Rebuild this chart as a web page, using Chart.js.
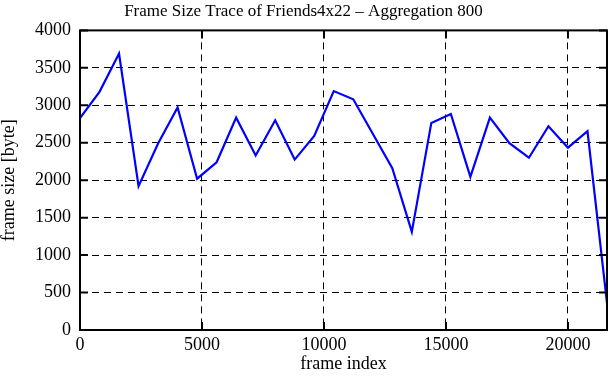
<!DOCTYPE html>
<html>
<head>
<meta charset="utf-8">
<script src="https://cdn.jsdelivr.net/npm/chart.js@4/dist/chart.umd.min.js"></script>
<style>
  html, body { margin: 0; padding: 0; background: #fff; }
  #wrap { width: 611px; height: 380px; }
</style>
</head>
<body>
<div id="wrap"><canvas id="traceChart" width="611" height="380"></canvas></div>
<script>
// frame index (aggregation windows of 800 frames)
const FRAME_INDEX = [0, 800, 1600, 2400, 3200, 4000, 4800, 5600, 6400, 7200, 8000, 8800, 9600, 10400,
                     11200, 12000, 12800, 13600, 14400, 15200, 16000, 16800, 17600, 18400, 19200, 20000, 20800, 21600];
// frame size [byte]
const FRAME_SIZE = [2830, 3180, 3690, 1920, 2490, 2970, 2020, 2240, 2835, 2330, 2800, 2275, 2590, 3190,
                    3080, 2620, 2160, 1310, 2765, 2885, 2045, 2835, 2495, 2300, 2720, 2435, 2655, 360];

const X_TICKS = [0, 5000, 10000, 15000, 20000];
const Y_TICKS = [0, 500, 1000, 1500, 2000, 2500, 3000, 3500, 4000];

const SERIF = "'Liberation Serif', 'DejaVu Serif', serif";

// gnuplot-style frame with inward tick marks on all four sides
const framePlugin = {
    id: 'frame',
    afterDraw(chart) {
        const ctx = chart.ctx;
        const { left, right, top, bottom } = chart.chartArea;
        const xs = chart.scales.x, ys = chart.scales.y;
        const len = 8;
        ctx.save();
        ctx.strokeStyle = '#000';
        ctx.lineWidth = 2;
        ctx.strokeRect(left, top, right - left, bottom - top);
        ctx.beginPath();
        X_TICKS.forEach(v => {
            const px = xs.getPixelForValue(v);
            ctx.moveTo(px, bottom); ctx.lineTo(px, bottom - len);
            ctx.moveTo(px, top); ctx.lineTo(px, top + len);
        });
        Y_TICKS.forEach(v => {
            const py = ys.getPixelForValue(v);
            ctx.moveTo(left, py); ctx.lineTo(left + len, py);
            ctx.moveTo(right, py); ctx.lineTo(right - len, py);
        });
        ctx.stroke();
        ctx.restore();
    }
};

const points = FRAME_INDEX.map((x, i) => ({ x: x, y: FRAME_SIZE[i] }));

new Chart(document.getElementById('traceChart').getContext('2d'), {
    type: 'line',
    data: {
        datasets: [{
            label: 'frame size',
            data: points,
            borderColor: '#0000ff',
            borderWidth: 2.2,
            pointRadius: 0,
            fill: false,
            tension: 0
        }]
    },
    options: {
        responsive: false,
        animation: false,
        layout: { padding: { left: 0, right: 4, top: 0, bottom: 0 } },
        plugins: {
            legend: { display: false },
            tooltip: { enabled: false },
            title: {
                display: true,
                text: 'Frame Size Trace of Friends4x22 \u2013 Aggregation 800',
                color: '#000',
                font: { family: SERIF, size: 17, weight: 'normal', lineHeight: 1.2 },
                padding: { top: 1, bottom: 9 }
            }
        },
        scales: {
            x: {
                type: 'linear',
                min: 0,
                max: 21600,
                afterBuildTicks: s => { s.ticks = X_TICKS.map(v => ({ value: v })); },
                afterFit: s => { s.height = 50; },
                ticks: {
                    color: '#000', font: { family: SERIF, size: 18 }, padding: 4, maxRotation: 0,
                    callback: v => String(v)
                },
                grid: { color: '#000', lineWidth: 1, drawTicks: false },
                border: { display: false, dash: [7, 5] },
                title: {
                    display: true,
                    text: 'frame index',
                    color: '#000',
                    font: { family: SERIF, size: 18, lineHeight: 1.2 },
                    padding: { top: 0, bottom: 5 }
                }
            },
            y: {
                min: 0,
                max: 4000,
                afterBuildTicks: s => { s.ticks = Y_TICKS.map(v => ({ value: v })); },
                afterFit: s => { s.width = 80; },
                ticks: {
                    color: '#000', font: { family: SERIF, size: 18 }, padding: 9,
                    callback: v => String(v)
                },
                grid: { color: '#000', lineWidth: 1, drawTicks: false },
                border: { display: false, dash: [7, 5] },
                title: {
                    display: true,
                    text: 'frame size [byte]',
                    color: '#000',
                    font: { family: SERIF, size: 18, lineHeight: 1 },
                    padding: { top: 0, bottom: 0 }
                }
            }
        }
    },
    plugins: [framePlugin]
});
</script>
</body>
</html>
